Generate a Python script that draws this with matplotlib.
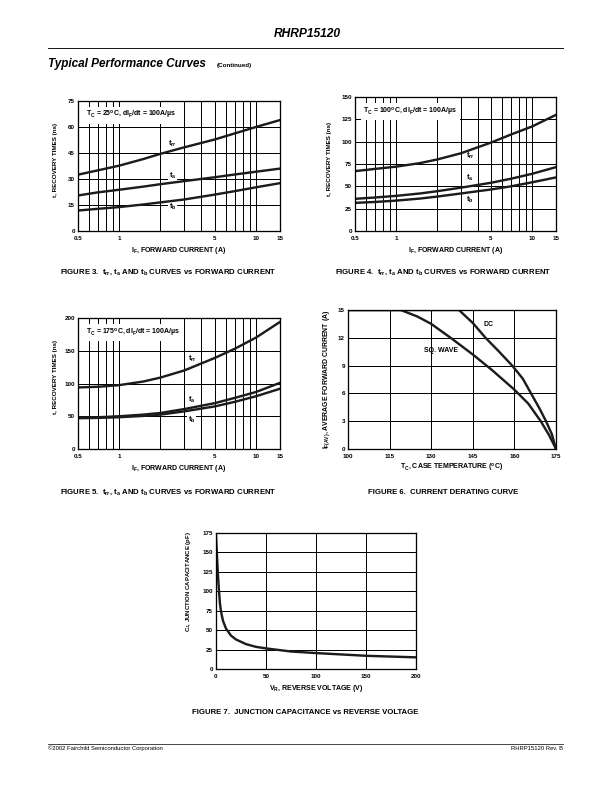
import matplotlib
matplotlib.use("Agg")
from matplotlib import pyplot as plt
from matplotlib.lines import Line2D

plt.rcParams['font.family'] = ['Liberation Sans', 'DejaVu Sans']
plt.rcParams['font.weight'] = 'bold'
plt.rcParams['axes.labelweight'] = 'bold'
plt.rcParams['mathtext.default'] = 'regular'

W, H = 612, 792

# ---- data ----
if_amps = [0.5, 0.7, 1, 1.5, 2, 3, 5, 7, 10, 15]

trr_25 = [32.5, 35.0, 37.7, 41.5, 44.5, 48.3, 52.8, 56.3, 60.0, 64.0]
ta_25 = [20.5, 22.3, 23.8, 25.6, 27.0, 28.8, 31.0, 32.6, 34.2, 36.0]
tb_25 = [11.8, 12.8, 13.8, 15.3, 16.5, 18.2, 21.0, 23.0, 25.2, 27.6]

trr_100 = [67.0, 69.5, 72.0, 76.0, 80.0, 87.0, 99.0, 108.0, 117.0, 130.0]
ta_100 = [36.0, 37.5, 39.3, 42.0, 44.5, 48.5, 54.0, 58.5, 64.0, 71.5]
tb_100 = [31.5, 32.5, 34.0, 36.3, 38.5, 42.0, 46.5, 50.0, 54.5, 60.0]

trr_175 = [94.0, 95.0, 97.5, 103.0, 109.0, 120.0, 139.0, 153.0, 170.0, 194.0]
ta_175 = [48.0, 48.5, 50.0, 52.5, 55.0, 61.0, 70.0, 78.0, 87.0, 101.0]
tb_175 = [47.0, 47.5, 48.5, 50.5, 52.5, 57.5, 65.0, 72.0, 80.5, 92.0]

tc_dc = [100, 140, 145, 149.6, 154.5, 159.2, 163, 166, 169, 171.4, 173.5, 175]
i_dc = [15, 15, 13.6, 12.0, 10.5, 9.0, 7.6, 6.0, 4.4, 3.0, 1.6, 0]
tc_sq = [100, 119, 125, 130, 137, 145, 152, 160, 165, 169.5, 172.5, 175]
i_sq = [15, 15, 14.3, 13.5, 12.0, 10.2, 8.5, 6.4, 4.9, 3.0, 1.5, 0]

vr = [0, 1, 2, 3, 4, 5, 7, 10, 15, 20, 30, 40, 50, 75, 100, 150, 200]
cj = [172, 145, 120, 100, 84, 74, 62, 52, 43, 38, 32, 28.5, 26.5, 22.5, 20.5, 17, 15]

log_major = [0.5, 1, 5, 10, 15]
log_major_labels = ['0.5', '1', '5', '10', '15']
log_minor = [0.6, 0.7, 0.8, 0.9, 2, 3, 4, 6, 7, 8, 9]

CURVE = '#1c1c1c'

fig = plt.figure(figsize=(W / 72, H / 72), dpi=72)


def px_axes(l, t, r, b):
    return fig.add_axes([l / W, 1 - b / H, (r - l) / W, (b - t) / H])


def ftext(x, y, s, **kw):
    fig.text(x / W, 1 - y / H, s, **kw)


def style(ax):
    for sp in ax.spines.values():
        sp.set_linewidth(1.3)
    ax.tick_params(which='both', length=0, labelsize=6.2)
    ax.tick_params(axis='x', which='both', pad=4.5)
    ax.tick_params(axis='y', which='both', pad=3)
    ax.grid(True, which='both', color='black', linewidth=1.0)
    ax.set_axisbelow(True)


def curve_label(ax, x, y, s):
    ax.text(x, y, s, fontsize=7.5, ha='center', va='center', zorder=1.8,
            bbox=dict(facecolor='white', edgecolor='none', pad=0.8))


def recovery_plot(ax, trr, ta, tb, ymax, ystep, cond, lab_x, lab_y, ylab_xy):
    ax.set_xscale('log')
    ax.plot(if_amps, trr, color=CURVE, lw=2.4, zorder=2)
    ax.plot(if_amps, ta, color=CURVE, lw=2.4, zorder=2)
    ax.plot(if_amps, tb, color=CURVE, lw=2.4, zorder=2)
    ax.set_xlim(0.5, 15)
    ax.set_ylim(0, ymax)
    ax.set_xticks(log_major)
    ax.set_xticklabels(log_major_labels)
    ax.set_xticks(log_minor, minor=True)
    ax.xaxis.set_minor_formatter(plt.NullFormatter())
    ax.set_yticks(range(0, ymax + 1, ystep))
    style(ax)
    ax.text(0.04, 0.935, cond, transform=ax.transAxes, fontsize=7, va='top',
            zorder=3, bbox=dict(facecolor='white', edgecolor='none', pad=2.5))
    for s, y in zip(['t$_{rr}$', 't$_a$', 't$_b$'], lab_y):
        curve_label(ax, lab_x, y, s)
    ax.set_xlabel('I$_F$, FORWARD CURRENT (A)', fontsize=7, labelpad=4)
    ax.set_ylabel('t, RECOVERY TIMES (ns)', fontsize=6.2)
    ax.yaxis.set_label_coords(*ylab_xy)


# Figure 3
ax3 = px_axes(78, 101, 280, 231)
recovery_plot(ax3, trr_25, ta_25, tb_25, 75, 15,
              'T$_C$ = 25$^o$C, dI$_F$/dt = 100A/µs', 2.45, [50.5, 32.0, 14.0],
              (-0.10, 0.546))

# Figure 4
ax4 = px_axes(355, 97, 556, 231)
recovery_plot(ax4, trr_100, ta_100, tb_100, 150, 25,
              'T$_C$ = 100$^o$C, dI$_F$/dt = 100A/µs', 3.5, [84, 59, 35],
              (-0.112, 0.541))

# Figure 5
ax5 = px_axes(78, 318, 280, 449)
recovery_plot(ax5, trr_175, ta_175, tb_175, 200, 50,
              'T$_C$ = 175$^o$C, dI$_F$/dt = 100A/µs', 3.4, [138, 75, 44],
              (-0.10, 0.55))

# Figure 6
ax6 = px_axes(348, 310, 556, 449)
ax6.plot(tc_dc, i_dc, color=CURVE, lw=2.4, zorder=2)
ax6.plot(tc_sq, i_sq, color=CURVE, lw=2.4, zorder=2)
ax6.set_xlim(100, 175)
ax6.set_ylim(0, 15)
ax6.set_xticks([100, 115, 130, 145, 160, 175])
ax6.set_yticks([0, 3, 6, 9, 12, 15])
style(ax6)
ax6.text(150.8, 13.4, 'DC', fontsize=7, ha='center', va='center')
ax6.text(133.6, 10.6, 'SQ. WAVE', fontsize=7, ha='center', va='center')
ax6.set_xlabel('T$_C$, CASE TEMPERATURE ($^o$C)', fontsize=7, labelpad=4)
ax6.set_ylabel('I$_{F(AV)}$, AVERAGE FORWARD CURRENT (A)', fontsize=6.9)
ax6.yaxis.set_label_coords(-0.077, 0.5)

# Figure 7
ax7 = px_axes(216, 533, 416, 669)
ax7.plot(vr, cj, color=CURVE, lw=2.4, zorder=2)
ax7.set_xlim(0, 200)
ax7.set_ylim(0, 175)
ax7.set_xticks([0, 50, 100, 150, 200])
ax7.set_yticks(range(0, 176, 25))
style(ax7)
ax7.set_xlabel('V$_R$, REVERSE VOLTAGE (V)', fontsize=7, labelpad=4)
ax7.set_ylabel('C$_J$, JUNCTION CAPACITANCE (pF)', fontsize=6)
ax7.yaxis.set_label_coords(-0.115, 0.64)

# captions
cap_kw = dict(fontsize=7.8, ha='center', va='center')
ftext(168, 272, 'FIGURE 3.  t$_{rr}$, t$_a$ AND t$_b$ CURVES vs FORWARD CURRENT', **cap_kw)
ftext(443, 272, 'FIGURE 4.  t$_{rr}$, t$_a$ AND t$_b$ CURVES vs FORWARD CURRENT', **cap_kw)
ftext(168, 492, 'FIGURE 5.  t$_{rr}$, t$_a$ AND t$_b$ CURVES vs FORWARD CURRENT', **cap_kw)
ftext(443, 492, 'FIGURE 6.  CURRENT DERATING CURVE', **cap_kw)
ftext(305, 712, 'FIGURE 7.  JUNCTION CAPACITANCE vs REVERSE VOLTAGE', **cap_kw)

# page header / footer
ftext(307, 34, 'RHRP15120', fontsize=12, style='italic', ha='center', va='center')
fig.add_artist(Line2D([48 / W, 563 / W], [1 - 48 / H, 1 - 48 / H], color='black', lw=0.9))
ftext(48, 64, 'Typical Performance Curves', fontsize=11.8, style='italic', va='center')
ftext(217, 65, '(Continued)', fontsize=6.3, va='center')
fig.add_artist(Line2D([48 / W, 563 / W], [1 - 744 / H, 1 - 744 / H], color='black', lw=0.7))
ftext(48, 748, '©2002 Fairchild Semiconductor Corporation', fontsize=5.9,
      fontweight='normal', va='center')
ftext(563, 748, 'RHRP15120 Rev. B', fontsize=5.9, fontweight='normal',
      ha='right', va='center')

fig.savefig('out.png', dpi=72)
